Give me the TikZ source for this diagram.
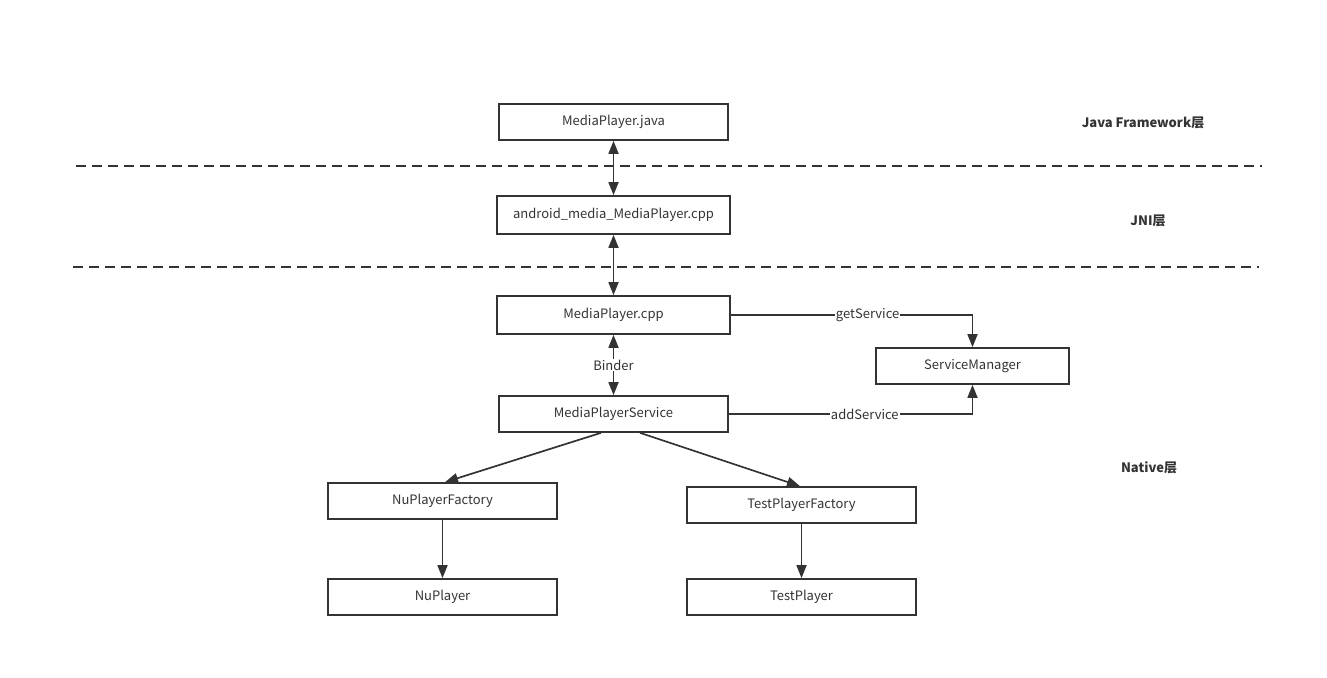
\documentclass[tikz,border=0pt]{standalone}
\usepackage{fontspec}
\setmainfont{Noto Sans CJK SC}
\usetikzlibrary{arrows.meta}
\definecolor{inkgray}{HTML}{333333}

\tikzset{
  block/.style={draw=inkgray, line width=1.7pt, minimum width=229pt, minimum height=36pt,
    inner sep=0pt, text=inkgray, font=\fontsize{13}{15}\selectfont},
  link/.style={draw=inkgray, line width=1.7pt, -{Triangle[width=10pt,length=13pt]}},
  twoway/.style={link, {Triangle[width=10pt,length=13pt]}-{Triangle[width=10pt,length=13pt]}},
  tag/.style={fill=white, inner sep=1pt, text=inkgray, font=\fontsize{13}{15}\selectfont},
  layer/.style={text=inkgray, font=\fontsize{13}{15}\selectfont\bfseries},
  split/.style={draw=inkgray, line width=1.7pt, dash pattern=on 10pt off 6pt}
}

\begin{document}
\begin{tikzpicture}[x=1pt,y=-1pt]
  \useasboundingbox (0,0) rectangle (1327,677);

  % layers
  \coordinate (s1a) at (76,166);
  \coordinate (s1b) at (1262,166);
  \coordinate (s2a) at (73,267);
  \coordinate (s2b) at (1259,267);
  \draw[split] (s1a) -- (s1b);
  \draw[split] (s2a) -- (s2b);
  \node[layer] (java) at (1143,123) {Java Framework层};
  \node[layer] (jni) at (1148,221) {JNI层};
  \node[layer] (native) at (1149,468) {Native层};

  % blocks
  \node[block] (mpjava) at (613.5,122) {MediaPlayer.java};
  \node[block, minimum width=233pt, minimum height=38pt] (mpjni) at (613.5,215) {android\_media\_MediaPlayer.cpp};
  \node[block, minimum width=233pt, minimum height=38pt] (mpcpp) at (613.5,315) {MediaPlayer.cpp};
  \node[block] (mps) at (613.5,414) {MediaPlayerService};
  \node[block, minimum width=193pt] (sm) at (972.5,366) {ServiceManager};
  \node[block] (nuf) at (442.5,501) {NuPlayerFactory};
  \node[block] (tpf) at (801.5,505) {TestPlayerFactory};
  \node[block] (nu) at (442.5,597) {NuPlayer};
  \node[block] (tp) at (801.5,597) {TestPlayer};

  % calls
  \draw[twoway] (mpjava) -- (mpjni);
  \draw[twoway] (mpjni) -- (mpcpp);
  \draw[twoway] (mpcpp) -- node[tag] {Binder} (mps);
  \draw[link] (mpcpp.east) -| node[tag, pos=0.283] {getService} (sm.north);
  \draw[link] (mps.east) -| node[tag, pos=0.279] {addService} (sm.south);

  % players
  \draw[link] ([xshift=-12.5pt]mps.south) -- ([xshift=2.5pt]nuf.north);
  \draw[link] ([xshift=26.5pt]mps.south) -- ([xshift=-1.5pt]tpf.north);
  \draw[link] (nuf) -- (nu);
  \draw[link] (tpf) -- (tp);
\end{tikzpicture}
\end{document}
